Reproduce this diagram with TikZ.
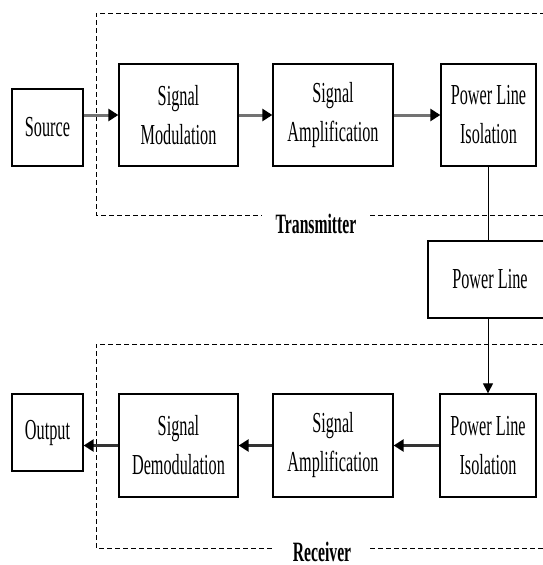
\documentclass[tikz,border=0pt]{standalone}
\usepackage{fontspec}
\setmainfont{Liberation Serif}[FakeStretch=0.56]
\usetikzlibrary{arrows.meta}

\tikzset{
  block/.style={draw=black, line width=1.3pt, fill=white, inner sep=0pt,
    align=center, font=\fontsize{29}{39}\selectfont},
  flow/.style={line width=3pt, draw=#1,
    -{Triangle[length=10pt,width=12pt,color=black]}},
  flow/.default={black!55},
  link/.style={line width=1pt, draw=black},
  linkarrow/.style={link, -{Triangle[length=10pt,width=10pt]}},
  frame/.style={line width=1pt, dash pattern=on 5pt off 3pt},
  framelabel/.style={inner sep=0pt, font=\fontsize{28}{37}\selectfont\bfseries}
}

\begin{document}
\begin{tikzpicture}[x=1pt, y=-1pt]
  \path[clip] (0,0) rectangle (543,565);
  \fill[white] (0,0) rectangle (543,565);

  % transmitter chain
  \node[block, minimum width=71pt, minimum height=77pt] (src) at (47.5,127.5) {Source};
  \node[block, minimum width=119pt, minimum height=102pt] (mod) at (178.5,115) {Signal\\Modulation};
  \node[block, minimum width=120pt, minimum height=102pt] (amptx) at (333,115) {Signal\\Amplification};
  \node[block, minimum width=95pt, minimum height=102pt] (isotx) at (488.5,115) {Power Line\\Isolation};

  % channel
  \node[block, minimum width=124pt, minimum height=77pt] (line) at (490,279.5) {Power Line};

  % receiver chain
  \node[block, minimum width=96pt, minimum height=103pt] (isorx) at (488,445.5) {Power Line\\Isolation};
  \node[block, minimum width=120pt, minimum height=103pt] (amprx) at (333,445.5) {Signal\\Amplification};
  \node[block, minimum width=119pt, minimum height=103pt] (demod) at (178.5,445.5) {Signal\\Demodulation};
  \node[block, minimum width=71pt, minimum height=77pt] (out) at (47.5,432.5) {Output};

  % group labels
  \node[framelabel] (txlabel) at (316,224) {Transmitter};
  \node[framelabel] (rxlabel) at (322,552) {Receiver};

  % dashed group frames
  \draw[frame] (553,13) -| (96,215) -- (262,215);
  \draw[frame] (370,215) -- (553,215);
  \draw[frame] (553,344) -| (96,548) -- (273,548);
  \draw[frame] (370,548) -- (553,548);

  % transmitter signal flow
  \draw[flow] (src.east |- mod.west) -- (mod.west);
  \draw[flow] (mod.east) -- (amptx.west);
  \draw[flow] (amptx.east) -- (isotx.west);

  % coupling to and from the power line
  \draw[link] (isotx.south) -- (isotx.south |- line.north);
  \draw[linkarrow] (isorx.north |- line.south) -- (isorx.north);

  % receiver signal flow
  \draw[flow=black!80] (isorx.west) -- (amprx.east);
  \draw[flow=black!80] (amprx.west) -- (demod.east);
  \draw[flow=black!80] (demod.west) -- (out.east |- demod.west);
\end{tikzpicture}
\end{document}
